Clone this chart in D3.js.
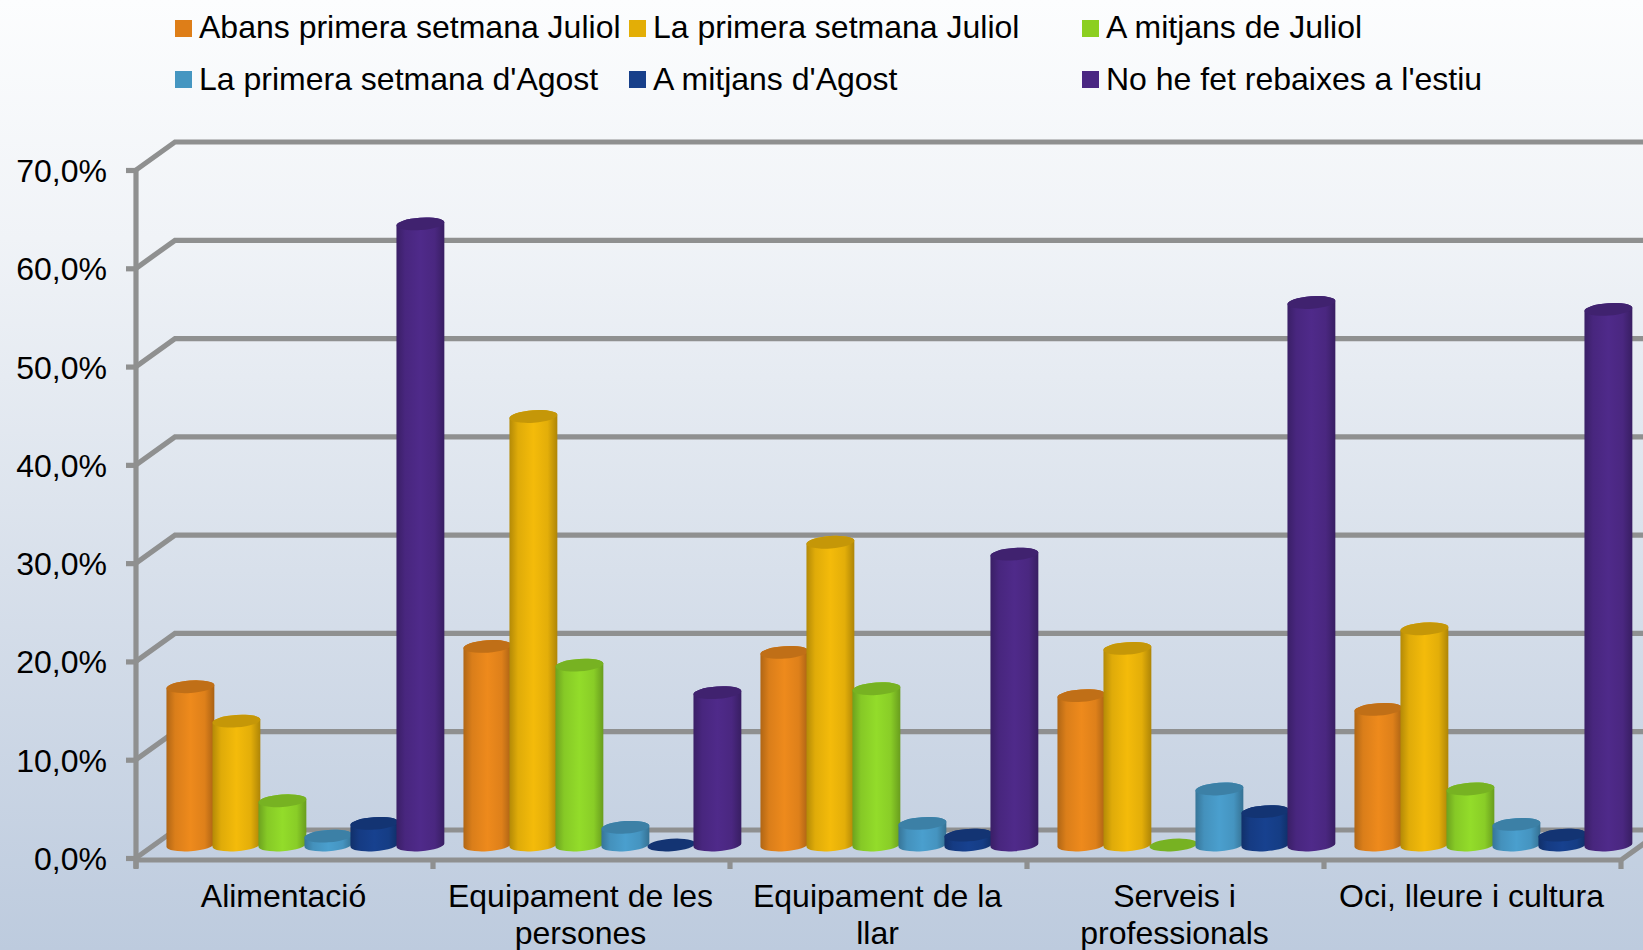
<!DOCTYPE html>
<html><head><meta charset="utf-8">
<script src="https://cdn.jsdelivr.net/npm/d3@7"></script>
<style>html,body{margin:0;padding:0;overflow:hidden}svg{display:block}text{font-family:"Liberation Sans",Arial,sans-serif;fill:#000}</style>
</head><body><svg id="c" width="1643" height="950"></svg>
<script>
const categories = ["Alimentació","Equipament de les persones","Equipament de la llar","Serveis i professionals","Oci, lleure i cultura"];
const seriesNames = ["Abans primera setmana Juliol","La primera setmana Juliol","A mitjans de Juliol","La primera setmana d'Agost","A mitjans d'Agost","No he fet rebaixes a l'estiu"];
const abansJuliol = [16.1,20.2,19.6,15.2,13.8];
const primeraJuliol = [12.6,43.6,30.8,20.0,22.0];
const mitjansJuliol = [4.5,18.3,15.9,0.0,5.7];
const primeraAgost = [0.9,1.8,2.2,5.7,2.1];
const mitjansAgost = [2.2,0.0,1.0,3.4,1.0];
const noRebaixes = [63.2,15.5,29.6,55.2,54.5];
const seriesValues = [abansJuliol,primeraJuliol,mitjansJuliol,primeraAgost,mitjansAgost,noRebaixes];
const colors = ["#ee8a1c","#f4bb0a","#93dc2a","#4a9fce","#17418f","#4f2a8a"];
const legendColors = ["#de7e18","#e3ae06","#8ccf20","#4596c1","#173f8a","#4a2782"];
const yTicks = [0,10,20,30,40,50,60,70];

const svg = d3.select("#c");
const W = 1643, H = 950;
const defs = svg.append("defs");
const bg = defs.append("linearGradient").attr("id","bg").attr("x1",0).attr("y1",0).attr("x2",0).attr("y2",1);
[[0,"#fcfdfe"],[0.25,"#f0f3f7"],[0.6,"#d8e0eb"],[1,"#bdcbde"]].forEach(s=>bg.append("stop").attr("offset",s[0]).attr("stop-color",s[1]));
svg.append("rect").attr("width",W).attr("height",H).attr("fill","url(#bg)");

colors.forEach((c,i)=>{
  const g = defs.append("linearGradient").attr("id","bar"+i).attr("x1",0).attr("x2",1).attr("y1",0).attr("y2",0);
  [[0,d3.color(c).darker(0.85)],[0.18,d3.color(c).darker(0.25)],[0.5,d3.color(c)],[0.8,d3.color(c).darker(0.2)],[1,d3.color(c).darker(0.95)]]
    .forEach(s=>g.append("stop").attr("offset",s[0]).attr("stop-color",s[1]));
});

const gridColor = "#8f9090", sw = 5.2;
const y = d3.scaleLinear().domain([0,70]).range([858,170]);
const band = d3.scaleBand().domain(categories).range([136,1621]);
const inner = d3.scaleBand().domain(d3.range(6)).range([30,306]);
const dx = 39, dy = -28;

const wall = svg.append("g").attr("fill","none").attr("stroke",gridColor).attr("stroke-width",sw);
yTicks.forEach(t=>{
  wall.append("path").attr("d",d3.line()([[136,y(t)],[136+dx,y(t)+dy],[W+5,y(t)+dy]]));
});
wall.append("path").attr("d",d3.line()([[136,860],[1621,860],[1621+dx,860+dy]]));

const yAxis = d3.axisLeft(y).tickValues(yTicks).tickSize(10).tickPadding(19)
  .tickFormat(d=>d3.format(".1f")(d).replace(".",",")+"%");
const gy = svg.append("g").attr("transform","translate(136,0)").call(yAxis);
gy.select(".domain").attr("stroke",gridColor).attr("stroke-width",sw).attr("d","M0,168V868");
gy.selectAll(".tick line").attr("stroke",gridColor).attr("stroke-width",sw);
gy.selectAll("text").attr("font-size",32).attr("font-family",null).attr("fill","#000").attr("dy","0.36em");

const xTickPos = categories.map(c=>band(c)).concat([band.range()[1]]);
svg.append("g").selectAll("line").data(xTickPos).join("line")
  .attr("x1",d=>d).attr("x2",d=>d).attr("y1",860).attr("y2",869)
  .attr("stroke",gridColor).attr("stroke-width",sw);

const xAxis = d3.axisBottom(band).tickSize(0).tickPadding(0);
const gx = svg.append("g").call(xAxis);
gx.select(".domain").remove();
gx.selectAll(".tick").each(function(d){
  const t = d3.select(this).select("text").attr("font-size",32).attr("font-family",null)
    .attr("fill","#000").attr("text-anchor","middle").attr("dy",null).attr("y",907).text(null);
  const words = d.split(" ");
  let line=[], n=0;
  let ts = t.append("tspan").attr("x",0).attr("y",907);
  words.forEach(w=>{
    line.push(w); ts.text(line.join(" "));
    if(ts.node().getComputedTextLength()>290 && line.length>1){
      line.pop(); ts.text(line.join(" ")); line=[w]; n++;
      ts = t.append("tspan").attr("x",0).attr("y",907+n*36.5).text(w);
    }
  });
});
gx.selectAll(".tick").attr("transform",d=>`translate(${band(d)+band.bandwidth()/2-1},0)`);

const rx = 24, ry = 6.2, tilt = 4*Math.PI/180, base = 845;
const vy = v => y(v) - y(0) + base;
function cyl(cx,yb,yt){
  const ox = rx*Math.cos(tilt), oy = rx*Math.sin(tilt);
  return `M${cx-ox},${yt+oy}L${cx-ox},${yb+oy}A${rx},${ry} -4 0 0 ${cx+ox},${yb-oy}L${cx+ox},${yt-oy}A${rx},${ry} -4 0 0 ${cx-ox},${yt+oy}Z`;
}
function cap(cx,yt){
  const ox = rx*Math.cos(tilt), oy = rx*Math.sin(tilt);
  return `M${cx-ox},${yt+oy}A${rx},${ry} -4 1 1 ${cx+ox},${yt-oy}A${rx},${ry} -4 1 1 ${cx-ox},${yt+oy}Z`;
}
const bars = svg.append("g");
categories.forEach((cat,ci)=>{
  seriesValues.forEach((vals,s)=>{
    const v = vals[ci];
    const cx = band(cat)+inner(s)+inner.bandwidth()/2+1.4;
    const g = bars.append("g");
    if(v>0) g.append("path").attr("d",cyl(cx,base,vy(v))).attr("fill",`url(#bar${s})`);
    g.append("path").attr("d",cap(cx,vy(v))).attr("fill",d3.color(colors[s]).darker(0.6));
  });
});

const legX = d3.scaleOrdinal().domain([0,1,2]).range([175,629,1082]);
const legY = d3.scaleOrdinal().domain([0,1]).range([20,71]);
const leg = svg.append("g");
seriesNames.forEach((n,i)=>{
  const col = i%3, row = Math.floor(i/3);
  leg.append("rect").attr("x",legX(col)).attr("y",legY(row)).attr("width",17).attr("height",17).attr("fill",legendColors[i]);
  leg.append("text").attr("x",legX(col)+24).attr("y",legY(row)+18+row).attr("font-size",32).text(n);
});
</script></body></html>
